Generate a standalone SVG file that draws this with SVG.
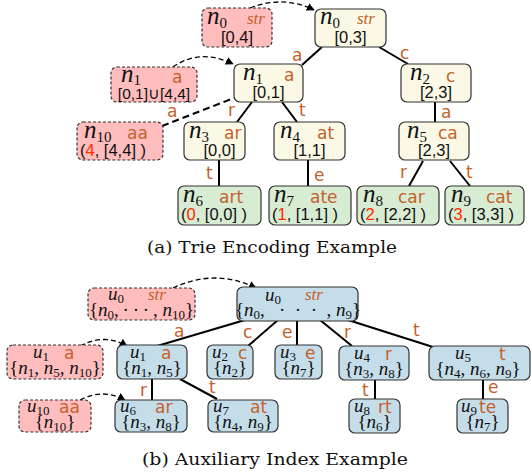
<svg xmlns="http://www.w3.org/2000/svg" width="531" height="476" viewBox="0 0 531 476">
<style>
.box{stroke:#333;stroke-width:1.2}
.y{fill:#fbf9e6}
.g{fill:#d8ebd3}
.b{fill:#c4dde9}
.r{fill:#ffbdbd;stroke-dasharray:3,2}
.lbl{fill:#c4622d;font-family:"DejaVu Sans",sans-serif;font-size:17px}
.str{fill:#c4622d;font-family:"Liberation Serif",serif;font-style:italic;font-size:17px}
.m{font-family:"Liberation Serif",serif;font-size:25px;fill:#111}
.mb{font-family:"Liberation Serif",serif;font-size:19px;fill:#111}
.i{font-style:italic}
.sub{font-size:15px;font-style:normal}
.subs{font-size:13px;font-style:normal}
.num{font-family:"Liberation Sans",sans-serif;font-size:16.5px;fill:#111}
.red{fill:#ff2a00}
.edge{stroke:#000;stroke-width:2;fill:none}
.dash{stroke:#000;stroke-width:1.3;stroke-dasharray:5,3;fill:none;marker-end:url(#ah)}
.cap{font-family:"DejaVu Serif",serif;font-size:17px;fill:#111}
</style>
<defs>
<marker id="ah" viewBox="0 0 10 10" refX="9" refY="5" markerWidth="8" markerHeight="8" markerUnits="userSpaceOnUse" orient="auto">
<path d="M0,0 L10,5 L0,10 z" fill="#000"/>
</marker>
</defs>

<g id="connectors">
<line class="edge" x1="322" y1="47" x2="302" y2="65"/>
<line class="edge" x1="379" y1="47" x2="408" y2="64"/>
<line class="edge" x1="252" y1="102" x2="237" y2="122"/>
<line class="edge" x1="282" y1="102" x2="297" y2="122"/>
<line class="edge" x1="435" y1="102" x2="435" y2="122"/>
<line class="edge" x1="219" y1="160" x2="219" y2="186"/>
<line class="edge" x1="308" y1="160" x2="308" y2="186"/>
<line class="edge" x1="423" y1="161" x2="409" y2="186"/>
<line class="edge" x1="450" y1="161" x2="470" y2="186"/>
<path class="dash" d="M250 8 Q283 -5 314 10"/>
<path class="dash" d="M173 67 Q200 48 233 64"/>
<line x1="162" y1="126" x2="234" y2="98" stroke="#000" stroke-width="2" stroke-dasharray="7,4"/>
<text class="lbl" x="292" y="61">a</text>
<text class="lbl" x="400" y="59">c</text>
<text class="lbl" x="228" y="116">r</text>
<text class="lbl" x="299" y="116">t</text>
<text class="lbl" x="441" y="118">a</text>
<text class="lbl" x="206" y="179">t</text>
<text class="lbl" x="314" y="181">e</text>
<text class="lbl" x="400" y="178">r</text>
<text class="lbl" x="466" y="178">t</text>
<text class="lbl" x="167" y="117">a</text>

<line class="edge" x1="245" y1="320" x2="157" y2="346"/>
<line class="edge" x1="278" y1="320" x2="248" y2="346"/>
<line class="edge" x1="297" y1="321" x2="297" y2="345"/>
<line class="edge" x1="320" y1="320" x2="352" y2="346"/>
<line class="edge" x1="348" y1="320" x2="433" y2="347"/>
<line class="edge" x1="152" y1="379" x2="152" y2="400"/>
<line class="edge" x1="180" y1="379" x2="217" y2="399"/>
<line class="edge" x1="375" y1="380" x2="375" y2="399"/>
<line class="edge" x1="483" y1="380" x2="483" y2="399"/>
<path class="dash" d="M173 288 Q215 268 256 288"/>
<path class="dash" d="M80 346 Q105 333 127 346"/>
<path class="dash" d="M80 400 Q103 388 125 400"/>
<text class="lbl" x="174" y="337">a</text>
<text class="lbl" x="243" y="338">c</text>
<text class="lbl" x="282" y="338">e</text>
<text class="lbl" x="344" y="338">r</text>
<text class="lbl" x="413" y="336">t</text>
<text class="lbl" x="140" y="396">r</text>
<text class="lbl" x="209" y="393">t</text>
<text class="lbl" x="362" y="396">t</text>
<text class="lbl" x="488" y="393">e</text>
</g>

<g id="n0r"><rect class="box r" x="202" y="8" width="70" height="39" rx="6"/>
<text class="m" x="207" y="24"><tspan class="i">n</tspan><tspan class="sub" dy="4">0</tspan></text>
<text class="str" x="247" y="24">str</text>
<text class="num" x="237" y="43" text-anchor="middle">[0,4]</text></g>

<g id="n0"><rect class="box y" x="315" y="9" width="71" height="38" rx="6"/>
<text class="m" x="320" y="24"><tspan class="i">n</tspan><tspan class="sub" dy="4">0</tspan></text>
<text class="str" x="357" y="24">str</text>
<text class="num" x="350.5" y="43" text-anchor="middle">[0,3]</text></g>

<g id="n1r"><rect class="box r" x="111" y="67" width="86" height="35" rx="6"/>
<text class="m" x="121" y="82"><tspan class="i">n</tspan><tspan class="sub" dy="3">1</tspan></text>
<text class="lbl" x="172" y="83">a</text>
<text class="num" x="154" y="99" text-anchor="middle" style="font-size:15.5px">[0,1]∪[4,4]</text></g>

<g id="n1"><rect class="box y" x="234" y="64" width="69" height="38" rx="6"/>
<text class="m" x="243" y="80"><tspan class="i">n</tspan><tspan class="sub" dy="4">1</tspan></text>
<text class="lbl" x="284" y="81">a</text>
<text class="num" x="268.5" y="98" text-anchor="middle">[0,1]</text></g>

<g id="n2"><rect class="box y" x="401" y="64" width="70" height="38" rx="6"/>
<text class="m" x="410" y="80"><tspan class="i">n</tspan><tspan class="sub" dy="4">2</tspan></text>
<text class="lbl" x="446" y="82">c</text>
<text class="num" x="436" y="98" text-anchor="middle">[2,3]</text></g>

<g id="n10"><rect class="box r" x="77" y="122" width="86" height="38" rx="6"/>
<text class="m" x="84" y="138"><tspan class="i">n</tspan><tspan class="sub" dy="4">10</tspan></text>
<text class="lbl" x="127" y="139">aa</text>
<text class="num" x="80" y="156">(<tspan class="red">4</tspan>,  [4,4] )</text></g>

<g id="n3"><rect class="box y" x="184" y="122" width="61" height="38" rx="6"/>
<text class="m" x="189" y="138"><tspan class="i">n</tspan><tspan class="sub" dy="4">3</tspan></text>
<text class="lbl" x="224" y="139">ar</text>
<text class="num" x="219.5" y="156" text-anchor="middle">[0,0]</text></g>

<g id="n4"><rect class="box y" x="274" y="122" width="71" height="38" rx="6"/>
<text class="m" x="280" y="138"><tspan class="i">n</tspan><tspan class="sub" dy="4">4</tspan></text>
<text class="lbl" x="317" y="139">at</text>
<text class="num" x="309.5" y="156" text-anchor="middle">[1,1]</text></g>

<g id="n5"><rect class="box y" x="399" y="122" width="70" height="38" rx="6"/>
<text class="m" x="407" y="138"><tspan class="i">n</tspan><tspan class="sub" dy="4">5</tspan></text>
<text class="lbl" x="438" y="139">ca</text>
<text class="num" x="434" y="156" text-anchor="middle">[2,3]</text></g>

<g id="n6"><rect class="box g" x="178" y="186" width="83" height="39" rx="6"/>
<text class="m" x="183" y="202"><tspan class="i">n</tspan><tspan class="sub" dy="4">6</tspan></text>
<text class="lbl" x="219" y="203">art</text>
<text class="num" x="181" y="220">(<tspan class="red">0</tspan>,  [0,0] )</text></g>

<g id="n7"><rect class="box g" x="269" y="186" width="82" height="39" rx="6"/>
<text class="m" x="274" y="202"><tspan class="i">n</tspan><tspan class="sub" dy="4">7</tspan></text>
<text class="lbl" x="310" y="203">ate</text>
<text class="num" x="272" y="220">(<tspan class="red">1</tspan>,  [1,1] )</text></g>

<g id="n8"><rect class="box g" x="357" y="186" width="82" height="39" rx="6"/>
<text class="m" x="363" y="202"><tspan class="i">n</tspan><tspan class="sub" dy="4">8</tspan></text>
<text class="lbl" x="398" y="203">car</text>
<text class="num" x="360" y="220">(<tspan class="red">2</tspan>,  [2,2] )</text></g>

<g id="n9"><rect class="box g" x="445" y="186" width="79" height="39" rx="6"/>
<text class="m" x="451" y="202"><tspan class="i">n</tspan><tspan class="sub" dy="4">9</tspan></text>
<text class="lbl" x="486" y="203">cat</text>
<text class="num" x="448" y="220">(<tspan class="red">3</tspan>,  [3,3] )</text></g>

<text class="cap" x="147" y="253" textLength="250" lengthAdjust="spacingAndGlyphs">(a) Trie Encoding Example</text>

<g id="u0r"><rect class="box r" x="88" y="288" width="107" height="32" rx="6"/>
<text class="mb" x="108" y="300"><tspan class="i">u</tspan><tspan class="subs" dy="3">0</tspan></text>
<text class="str" x="148" y="300">str</text>
<text class="mb" x="141.5" y="316" text-anchor="middle">{<tspan class="i">n</tspan><tspan class="subs" dy="3">0</tspan><tspan dy="-3">,&#8201;·&#8201;·&#8201;·&#8201;, </tspan><tspan class="i">n</tspan><tspan class="subs" dy="3">10</tspan><tspan dy="-3">}</tspan></text></g>

<g id="u0"><rect class="box b" x="237" y="287" width="121" height="34" rx="6"/>
<text class="mb" x="265" y="301"><tspan class="i">u</tspan><tspan class="subs" dy="3">0</tspan></text>
<text class="str" x="305" y="300">str</text>
<text class="mb" x="298" y="316" text-anchor="middle">{<tspan class="i">n</tspan><tspan class="subs" dy="3">0</tspan><tspan dy="-3">, &#8194;·&#8194;·&#8194;·&#8194;, </tspan><tspan class="i">n</tspan><tspan class="subs" dy="3">9</tspan><tspan dy="-3">}</tspan></text></g>

<g id="u1r"><rect class="box r" x="7" y="345" width="96" height="34" rx="6"/>
<text class="mb" x="33" y="358"><tspan class="i">u</tspan><tspan class="subs" dy="3">1</tspan></text>
<text class="lbl" x="64" y="359">a</text>
<text class="mb" x="55" y="374" text-anchor="middle">{<tspan class="i">n</tspan><tspan class="subs" dy="3">1</tspan><tspan dy="-3">, </tspan><tspan class="i">n</tspan><tspan class="subs" dy="3">5</tspan><tspan dy="-3">, </tspan><tspan class="i">n</tspan><tspan class="subs" dy="3">10</tspan><tspan dy="-3">}</tspan></text></g>

<g id="u1"><rect class="box b" x="117" y="345" width="70" height="34" rx="6"/>
<text class="mb" x="130" y="358"><tspan class="i">u</tspan><tspan class="subs" dy="3">1</tspan></text>
<text class="lbl" x="161" y="359">a</text>
<text class="mb" x="152" y="374" text-anchor="middle">{<tspan class="i">n</tspan><tspan class="subs" dy="3">1</tspan><tspan dy="-3">, </tspan><tspan class="i">n</tspan><tspan class="subs" dy="3">5</tspan><tspan dy="-3">}</tspan></text></g>

<g id="u2"><rect class="box b" x="207" y="345" width="46" height="34" rx="6"/>
<text class="mb" x="212" y="358"><tspan class="i">u</tspan><tspan class="subs" dy="3">2</tspan></text>
<text class="lbl" x="238" y="359">c</text>
<text class="mb" x="230" y="374" text-anchor="middle">{<tspan class="i">n</tspan><tspan class="subs" dy="3">2</tspan><tspan dy="-3">}</tspan></text></g>

<g id="u3"><rect class="box b" x="275" y="345" width="47" height="34" rx="6"/>
<text class="mb" x="280" y="358"><tspan class="i">u</tspan><tspan class="subs" dy="3">3</tspan></text>
<text class="lbl" x="305" y="359">e</text>
<text class="mb" x="298.5" y="374" text-anchor="middle">{<tspan class="i">n</tspan><tspan class="subs" dy="3">7</tspan><tspan dy="-3">}</tspan></text></g>

<g id="u4"><rect class="box b" x="339" y="346" width="70" height="34" rx="6"/>
<text class="mb" x="354" y="359"><tspan class="i">u</tspan><tspan class="subs" dy="3">4</tspan></text>
<text class="lbl" x="385" y="360">r</text>
<text class="mb" x="374" y="375" text-anchor="middle">{<tspan class="i">n</tspan><tspan class="subs" dy="3">3</tspan><tspan dy="-3">, </tspan><tspan class="i">n</tspan><tspan class="subs" dy="3">8</tspan><tspan dy="-3">}</tspan></text></g>

<g id="u5"><rect class="box b" x="429" y="346" width="101" height="34" rx="6"/>
<text class="mb" x="455" y="359"><tspan class="i">u</tspan><tspan class="subs" dy="3">5</tspan></text>
<text class="lbl" x="499" y="360">t</text>
<text class="mb" x="478" y="375" text-anchor="middle">{<tspan class="i">n</tspan><tspan class="subs" dy="3">4</tspan><tspan dy="-3">, </tspan><tspan class="i">n</tspan><tspan class="subs" dy="3">6</tspan><tspan dy="-3">, </tspan><tspan class="i">n</tspan><tspan class="subs" dy="3">9</tspan><tspan dy="-3">}</tspan></text></g>

<g id="u10r"><rect class="box r" x="19" y="400" width="72" height="32" rx="6"/>
<text class="mb" x="27" y="412"><tspan class="i">u</tspan><tspan class="subs" dy="3">10</tspan></text>
<text class="lbl" x="59" y="413">aa</text>
<text class="mb" x="55" y="428" text-anchor="middle">{<tspan class="i">n</tspan><tspan class="subs" dy="3">10</tspan><tspan dy="-3">}</tspan></text></g>

<g id="u6"><rect class="box b" x="115" y="400" width="72" height="32" rx="6"/>
<text class="mb" x="120" y="412"><tspan class="i">u</tspan><tspan class="subs" dy="3">6</tspan></text>
<text class="lbl" x="155" y="413">ar</text>
<text class="mb" x="151" y="428" text-anchor="middle">{<tspan class="i">n</tspan><tspan class="subs" dy="3">3</tspan><tspan dy="-3">, </tspan><tspan class="i">n</tspan><tspan class="subs" dy="3">8</tspan><tspan dy="-3">}</tspan></text></g>

<g id="u7"><rect class="box b" x="208" y="400" width="70" height="32" rx="6"/>
<text class="mb" x="213" y="412"><tspan class="i">u</tspan><tspan class="subs" dy="3">7</tspan></text>
<text class="lbl" x="250" y="413">at</text>
<text class="mb" x="243" y="428" text-anchor="middle">{<tspan class="i">n</tspan><tspan class="subs" dy="3">4</tspan><tspan dy="-3">, </tspan><tspan class="i">n</tspan><tspan class="subs" dy="3">9</tspan><tspan dy="-3">}</tspan></text></g>

<g id="u8"><rect class="box b" x="349" y="399" width="51" height="34" rx="6"/>
<text class="mb" x="354" y="412"><tspan class="i">u</tspan><tspan class="subs" dy="3">8</tspan></text>
<text class="lbl" x="378" y="413">rt</text>
<text class="mb" x="374.5" y="428" text-anchor="middle">{<tspan class="i">n</tspan><tspan class="subs" dy="3">6</tspan><tspan dy="-3">}</tspan></text></g>

<g id="u9"><rect class="box b" x="457" y="399" width="51" height="34" rx="6"/>
<text class="mb" x="461" y="412"><tspan class="i">u</tspan><tspan class="subs" dy="3">9</tspan></text>
<text class="lbl" x="479" y="413">te</text>
<text class="mb" x="482.5" y="428" text-anchor="middle">{<tspan class="i">n</tspan><tspan class="subs" dy="3">7</tspan><tspan dy="-3">}</tspan></text></g>

<text class="cap" x="142" y="465" textLength="266" lengthAdjust="spacingAndGlyphs">(b) Auxiliary Index Example</text>
</svg>
